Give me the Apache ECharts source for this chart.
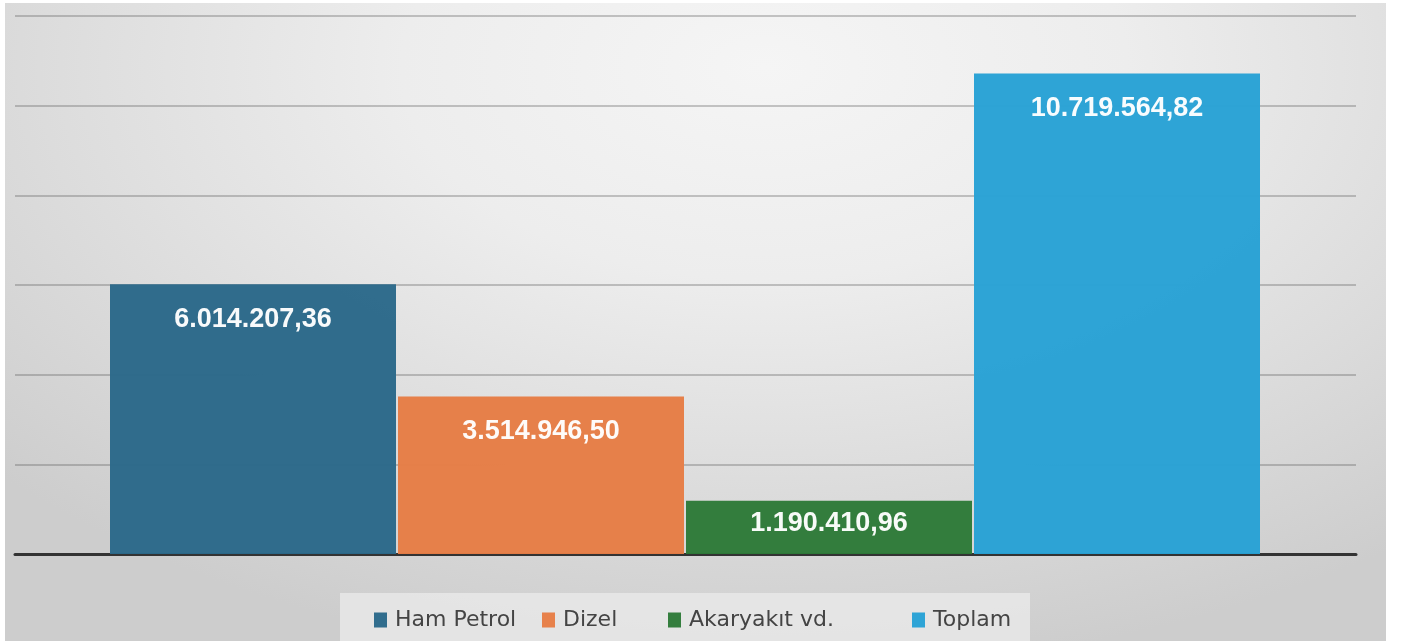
<!DOCTYPE html>
<html>
<head>
<meta charset="utf-8">
<script src="https://cdn.jsdelivr.net/npm/echarts@6/dist/echarts.min.js"></script>
<style>
html,body{margin:0;padding:0;background:#fff;width:1401px;height:641px;overflow:hidden;}
#panel{position:absolute;left:5px;top:3px;width:1381px;height:638px;
background:radial-gradient(ellipse 75% 95% at 55% 10%, #f5f5f5 0%, #ededed 35%, #dcdcdc 70%, #cdcdcd 100%);}
#chart{position:absolute;left:0;top:0;width:1401px;height:641px;}
</style>
</head>
<body>
<div id="panel"></div>
<div id="chart"></div>
<script>
const categories = ['Ham Petrol', 'Dizel', 'Akaryakıt vd.', 'Toplam'];
const values = [6014207.36, 3514946.50, 1190410.96, 10719564.82];
const labels = ['6.014.207,36', '3.514.946,50', '1.190.410,96', '10.719.564,82'];
const yMin = 0, yMax = 12000000, yInterval = 2000000;

const colors = ['#2a6889', '#e67d45', '#2d7a38', '#27a1d5'];
const legendLeft = [374, 542, 668, 912];

const chart = echarts.init(document.getElementById('chart'), null, {renderer: 'canvas'});

const series = categories.map((c, i) => ({
  name: c,
  type: 'bar',
  xAxisIndex: 1,
  yAxisIndex: 1,
  stack: 'all',
  barWidth: 286,
  data: categories.map((_, j) => j === i ? values[i] : '-'),
  itemStyle: {color: colors[i], opacity: 0.97},
  label: {
    show: true,
    position: i === 2 ? 'inside' : 'insideTop',
    distance: 22,
    offset: i === 2 ? [0, -4] : [0, 0],
    formatter: () => labels[i],
    color: '#fff',
    fontFamily: "'Liberation Sans', Arial, sans-serif",
    fontWeight: 'bold',
    fontSize: 27
  }
}));

const legends = categories.map((c, i) => ({
  data: [c],
  left: legendLeft[i],
  top: 609,
  itemWidth: 13,
  itemHeight: 15,
  itemGap: 0,
  icon: 'rect',
  textStyle: {fontFamily: "'DejaVu Sans', sans-serif", fontSize: 22, color: '#444', padding: [0, 0, 0, 3]},
  padding: 0
}));

chart.setOption({
  animation: false,
  backgroundColor: 'transparent',
  graphic: [{
    type: 'rect', shape: {x: 340, y: 593, width: 690, height: 50},
    style: {fill: 'rgba(235,235,235,0.75)'}, z: -1
  }],
  grid: [
    {left: 15, right: 45, top: 16, bottom: 87},
    {left: 109, right: 140, top: 16, bottom: 87}
  ],
  xAxis: [
    {gridIndex: 0, type: 'category', data: [''], axisTick: {show: false}, axisLabel: {show: false},
     axisLine: {show: true, lineStyle: {color: '#333', width: 3}}},
    {gridIndex: 1, type: 'category', data: categories, axisTick: {show: false}, axisLabel: {show: false},
     axisLine: {show: false}}
  ],
  yAxis: [
    {gridIndex: 0, type: 'value', min: yMin, max: yMax, interval: yInterval, axisLabel: {show: false},
     axisLine: {show: false}, axisTick: {show: false},
     splitLine: {show: true, lineStyle: {color: 'rgba(90,90,90,0.33)', width: 2}}},
    {gridIndex: 1, type: 'value', min: yMin, max: yMax, interval: yInterval, axisLabel: {show: false},
     axisLine: {show: false}, axisTick: {show: false}, splitLine: {show: false}}
  ],
  legend: legends,
  series: series
});
</script>
</body>
</html>
